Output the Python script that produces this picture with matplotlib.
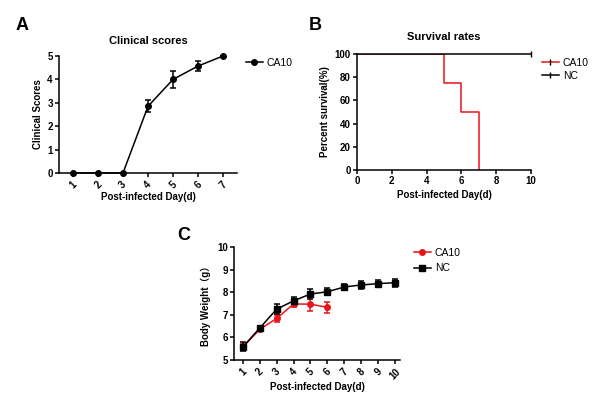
import matplotlib
matplotlib.use('Agg')
import matplotlib.pyplot as plt
from matplotlib.lines import Line2D

plt.rcParams['font.family'] = ['Liberation Sans', 'Noto Sans CJK SC', 'DejaVu Sans']

# panel A - clinical scores
days_a = [1, 2, 3, 4, 5, 6, 7]
scores_ca10 = [0, 0, 0, 2.85, 4.0, 4.57, 5.0]
scores_err = [0, 0, 0, 0.25, 0.35, 0.21, 0]

# panel B - survival (Kaplan-Meier steps)
surv_days_ca10 = [0, 5, 6, 7]
surv_ca10 = [100, 75, 50, 0]
surv_days_nc = [0, 10]
surv_nc = [100, 100]

# panel C - body weight
days_c = [1, 2, 3, 4, 5, 6, 7, 8, 9, 10]
weight_nc = [5.58, 6.42, 7.25, 7.62, 7.92, 8.02, 8.23, 8.32, 8.38, 8.42]
weight_nc_err = [0.2, 0.08, 0.22, 0.18, 0.2, 0.16, 0.13, 0.18, 0.16, 0.18]
days_c_ca10 = [1, 2, 3, 4, 5, 6]
weight_ca10 = [5.58, 6.36, 6.84, 7.48, 7.47, 7.33]
weight_ca10_err = [0.15, 0.07, 0.14, 0.15, 0.32, 0.25]

W, H = 600, 397
LW = 1.1
RED = '#e8141b'
TICK_FS = 7
LABEL_FS = 7


def px_axes(fig, left, top, right, bottom):
    return fig.add_axes([left / W, 1 - bottom / H, (right - left) / W, (bottom - top) / H])


def prism_style(ax):
    for s in ['top', 'right']:
        ax.spines[s].set_visible(False)
    for s in ['left', 'bottom']:
        ax.spines[s].set_linewidth(LW)
    ax.tick_params(width=LW, length=3, labelsize=TICK_FS, pad=1.5)
    for lab in ax.get_xticklabels() + ax.get_yticklabels():
        lab.set_fontweight('bold')


def legend_px(ax, handles, labels, x, y, spacing=0.3):
    # x, y = figure pixel of the legend's upper-left corner
    ax.legend(handles, labels, loc='upper left', bbox_to_anchor=(x / W, 1 - y / H),
              bbox_transform=fig.transFigure, frameon=False, fontsize=7.5,
              handlelength=1.6, handletextpad=0.4, labelspacing=spacing,
              borderpad=0, borderaxespad=0)


fig = plt.figure(figsize=(6, 3.97), dpi=100)

# ---- A
ax = px_axes(fig, 59, 56, 237, 173)
ax.errorbar(days_a, scores_ca10, yerr=scores_err, color='black', marker='o', markersize=4,
            lw=LW, capsize=2.5, elinewidth=LW, capthick=LW, clip_on=False)
ax.set_xlim(0.44, 7.56)
ax.set_ylim(0, 5)
ax.set_xticks(days_a)
ax.set_yticks([0, 1, 2, 3, 4, 5])
prism_style(ax)
for lab in ax.get_xticklabels():
    lab.set_rotation(45)
ax.set_title('Clinical scores', fontsize=8, fontweight='bold', pad=9)
ax.set_xlabel('Post-infected Day(d)', fontsize=LABEL_FS, fontweight='bold', labelpad=1)
ax.set_ylabel('Clinical Scores', fontsize=LABEL_FS, fontweight='bold', labelpad=3)
legend_px(ax, [Line2D([], [], color='black', lw=LW, marker='o', markersize=4)], ['CA10'], 246, 58)
fig.text(16 / W, 1 - 25 / H, 'A', fontsize=13, fontweight='bold', va='center')

# ---- B
ax = px_axes(fig, 357, 54, 531, 170)
ax.step(surv_days_ca10, surv_ca10, where='post', color=RED, lw=LW)
ax.plot(surv_days_nc, surv_nc, color='black', lw=LW, marker='|',
        markersize=5, markevery=[1], clip_on=False)
ax.set_xlim(0, 10)
ax.set_ylim(0, 100)
ax.set_xticks([0, 2, 4, 6, 8, 10])
ax.set_yticks([0, 20, 40, 60, 80, 100])
prism_style(ax)
ax.set_title('Survival rates', fontsize=8, fontweight='bold', pad=10)
ax.set_xlabel('Post-infected Day(d)', fontsize=LABEL_FS, fontweight='bold', labelpad=3)
ax.set_ylabel('Percent survival(%)', fontsize=LABEL_FS, fontweight='bold', labelpad=3)
legend_px(ax, [Line2D([], [], color=RED, lw=LW, marker='|', markersize=4, markeredgecolor='black'),
               Line2D([], [], color='black', lw=LW, marker='|', markersize=4)],
          ['CA10', 'NC'], 542, 58)
fig.text(309 / W, 1 - 25 / H, 'B', fontsize=13, fontweight='bold', va='center')

# ---- C
ax = px_axes(fig, 234, 247, 400, 360)
ax.errorbar(days_c_ca10, weight_ca10, yerr=weight_ca10_err, color=RED, marker='o',
            markersize=4, lw=LW, capsize=2.5, elinewidth=LW, capthick=LW)
ax.errorbar(days_c, weight_nc, yerr=weight_nc_err, color='black', marker='s',
            markersize=4, lw=LW, capsize=2.5, elinewidth=LW, capthick=LW)
ax.set_xlim(0.47, 10.3)
ax.set_ylim(5, 10)
ax.set_xticks(days_c)
ax.set_yticks([5, 6, 7, 8, 9, 10])
prism_style(ax)
for lab in ax.get_xticklabels():
    lab.set_rotation(45)
ax.set_xlabel('Post-infected Day(d)', fontsize=LABEL_FS, fontweight='bold', labelpad=1)
ax.set_ylabel('Body Weight（g）', fontsize=LABEL_FS, fontweight='bold', labelpad=4)
legend_px(ax, [Line2D([], [], color=RED, lw=LW, marker='o', markersize=4),
               Line2D([], [], color='black', lw=LW, marker='s', markersize=4)],
          ['CA10', 'NC'], 414, 248, spacing=0.5)
fig.text(177 / W, 1 - 235 / H, 'C', fontsize=13, fontweight='bold', va='center')

fig.savefig('out.png', dpi=100)
